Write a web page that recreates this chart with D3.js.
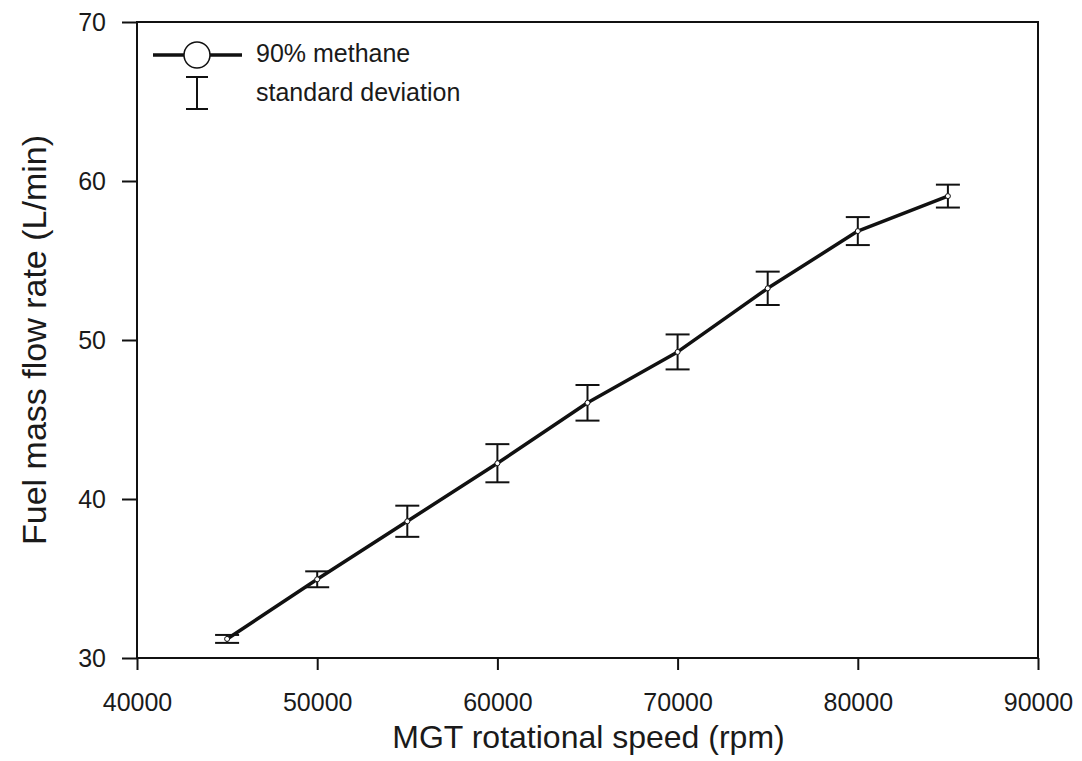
<!DOCTYPE html>
<html>
<head>
<meta charset="utf-8">
<script src="https://cdn.jsdelivr.net/npm/d3@7"></script>
<style>
  html, body { margin: 0; padding: 0; background: #fff; }
  svg text { font-family: "Liberation Sans", Arial, sans-serif; fill: #1a1a1a; }
</style>
</head>
<body>
<svg id="chart" width="1082" height="761"></svg>
<script>
// Rotational speed (rpm) and measured fuel flow (L/min) with standard deviation
const speeds = [45000, 50000, 55000, 60000, 65000, 70000, 75000, 80000, 85000];
const flowRate = [31.2, 34.95, 38.6, 42.25, 46.05, 49.25, 53.25, 56.85, 59.05];
const stdDev = [0.25, 0.5, 0.98, 1.2, 1.12, 1.1, 1.05, 0.88, 0.72];
const xTicks = [40000, 50000, 60000, 70000, 80000, 90000];
const yTicks = [30, 40, 50, 60, 70];
const seriesName = "90% methane";
const errorName = "standard deviation";

const svg = d3.select("#chart");
const margin = { left: 137, right: 44, top: 22, bottom: 103 };
const W = 1082, H = 761;
const x = d3.scaleLinear().domain([40000, 90000]).range([margin.left, W - margin.right]);
const y = d3.scaleLinear().domain([30, 70]).range([H - margin.bottom, margin.top]);
const ink = "#111";

// frame
svg.append("rect")
  .attr("x", x(40000)).attr("y", y(70))
  .attr("width", x(90000) - x(40000)).attr("height", y(30) - y(70))
  .attr("fill", "none").attr("stroke", ink).attr("stroke-width", 2);

// bottom axis
const xAxis = svg.append("g")
  .attr("transform", `translate(0,${y(30)})`)
  .call(d3.axisBottom(x).tickValues(xTicks).tickFormat(d3.format("d")).tickSize(12).tickPadding(23));
xAxis.select(".domain").remove();
xAxis.selectAll("line").attr("stroke", ink).attr("stroke-width", 2);
xAxis.selectAll("text").attr("font-size", 25).attr("fill", "#1a1a1a");

// left axis
const yAxis = svg.append("g")
  .attr("transform", `translate(${x(40000)},0)`)
  .call(d3.axisLeft(y).tickValues(yTicks).tickSize(15).tickPadding(16));
yAxis.select(".domain").remove();
yAxis.selectAll("line").attr("stroke", ink).attr("stroke-width", 2);
yAxis.selectAll("text").attr("font-size", 25).attr("fill", "#1a1a1a");

// axis titles
svg.append("text")
  .attr("x", (x(40000) + x(90000)) / 2 + 1).attr("y", 748)
  .attr("text-anchor", "middle").attr("font-size", 32)
  .text("MGT rotational speed (rpm)");
svg.append("text")
  .attr("transform", `translate(46,${(y(30) + y(70)) / 2}) rotate(-90)`)
  .attr("text-anchor", "middle").attr("font-size", 34)
  .text("Fuel mass flow rate (L/min)");

const pts = speeds.map((s, i) => ({ s, v: flowRate[i], e: stdDev[i] }));

// series line
svg.append("path")
  .datum(pts)
  .attr("fill", "none").attr("stroke", ink).attr("stroke-width", 3.5)
  .attr("stroke-linejoin", "round")
  .attr("d", d3.line().x(d => x(d.s)).y(d => y(d.v)));

// error bars
const capHalf = 12;
const eb = svg.append("g").attr("stroke", ink).attr("stroke-width", 2);
pts.forEach(d => {
  const cx = x(d.s), top = y(d.v + d.e), bot = y(d.v - d.e);
  eb.append("line").attr("x1", cx).attr("x2", cx).attr("y1", top).attr("y2", bot);
  eb.append("line").attr("x1", cx - capHalf).attr("x2", cx + capHalf).attr("y1", top).attr("y2", top);
  eb.append("line").attr("x1", cx - capHalf).attr("x2", cx + capHalf).attr("y1", bot).attr("y2", bot);
});

// point markers
svg.append("g").selectAll("circle")
  .data(pts).join("circle")
  .attr("cx", d => x(d.s)).attr("cy", d => y(d.v)).attr("r", 2.5)
  .attr("fill", "#fff").attr("stroke", ink).attr("stroke-width", 1);

// legend
const lg = svg.append("g");
lg.append("line").attr("x1", 153).attr("x2", 242).attr("y1", 55).attr("y2", 55)
  .attr("stroke", ink).attr("stroke-width", 3.5);
lg.append("circle").attr("cx", 197).attr("cy", 55).attr("r", 13)
  .attr("fill", "#fff").attr("stroke", ink).attr("stroke-width", 1.5);
lg.append("line").attr("x1", 197).attr("x2", 197).attr("y1", 77).attr("y2", 109)
  .attr("stroke", ink).attr("stroke-width", 2);
lg.append("line").attr("x1", 186).attr("x2", 208).attr("y1", 77).attr("y2", 77)
  .attr("stroke", ink).attr("stroke-width", 2);
lg.append("line").attr("x1", 186).attr("x2", 208).attr("y1", 109).attr("y2", 109)
  .attr("stroke", ink).attr("stroke-width", 2);
lg.append("text").attr("x", 256).attr("y", 62).attr("font-size", 25).text(seriesName);
lg.append("text").attr("x", 256).attr("y", 101).attr("font-size", 25).text(errorName);
</script>
</body>
</html>
